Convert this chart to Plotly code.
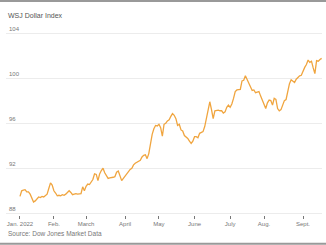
import pandas as pd
import plotly.graph_objects as go

# WSJ Dollar Index, daily closes (trading days from Jan. 3, 2022)
values = [
    89.5, 90.0, 90.05, 90.1, 89.9, 89.9, 89.7, 89.3, 89.0, 89.1,
    89.3, 89.45, 89.4, 89.5, 89.45, 89.55, 89.7, 90.2, 90.7, 90.5,
    90.0, 89.8, 89.55, 89.6, 89.55, 89.65, 89.6, 89.7, 89.85, 90.0,
    89.85, 89.65, 89.7, 89.75, 89.7, 89.7, 89.75, 90.35, 90.0, 90.4,
    90.6, 90.55, 90.8, 91.0, 91.5, 91.45, 90.9, 91.5, 91.8, 92.0,
    91.6, 91.3, 91.1, 91.15, 91.15, 91.2, 91.25, 91.65, 91.75, 91.2,
    90.9, 91.1, 91.3, 91.55, 91.7, 91.9, 92.0, 92.3, 92.45, 92.55,
    92.65, 92.7, 93.0, 93.15, 93.2, 92.85, 93.3, 94.2, 95.0, 95.5,
    95.8, 95.75, 95.9, 95.6, 94.85, 95.9, 96.0, 96.2, 96.3, 96.6,
    96.85, 96.7, 96.4, 95.8, 95.9, 95.4, 95.3, 94.9, 94.8, 94.65,
    94.4, 94.2, 94.4, 94.8, 94.8, 94.7, 95.1, 95.15, 95.25, 95.7,
    96.4, 97.3, 97.9, 97.2, 96.4, 97.1, 97.15, 97.15, 97.1, 97.1,
    96.9, 97.0, 97.4, 97.6, 97.4, 97.7, 98.2, 98.8, 98.95, 98.95,
    99.0, 99.75, 99.8, 100.2, 99.9, 99.5, 99.2, 98.9, 98.95, 98.7,
    98.75, 98.8, 98.4, 98.0, 97.75, 97.3, 97.8, 98.05, 98.0, 97.6,
    98.2, 98.1, 97.3, 97.1, 97.2, 97.7, 98.0, 98.1, 98.8, 99.5,
    99.85, 99.7, 99.6, 99.9, 100.1, 100.2, 100.25, 100.7, 100.95, 101.2,
    101.6, 101.4, 101.5, 100.9, 100.4, 101.55, 101.5, 101.65, 101.75,
]

holidays = ["2022-01-17", "2022-02-21", "2022-04-15", "2022-05-30",
            "2022-06-20", "2022-07-04", "2022-09-05"]
start_date = "2022-01-03"

month_labels = ["Jan. 2022", "Feb.", "March", "April", "May", "June",
                "July", "Aug.", "Sept."]
y_ticks = [88, 92, 96, 100, 104]

title_text = "WSJ Dollar Index"
source_text = "Source: Dow Jones Market Data"

cbd = pd.offsets.CustomBusinessDay(holidays=holidays)
dates = pd.date_range(start_date, periods=len(values), freq=cbd)
x = list(dates.strftime("%Y-%m-%d"))

# first trading day of each month for ticks
first_days = []
seen = set()
for d in dates:
    key = (d.year, d.month)
    if key not in seen:
        seen.add(key)
        first_days.append(d.strftime("%Y-%m-%d"))

FONT = "Liberation Sans, Arial, sans-serif"
ORANGE = "#F0A53F"

fig = go.Figure()
fig.add_trace(go.Scatter(
    x=x, y=values, mode="lines",
    line=dict(color=ORANGE, width=1.3),
    hoverinfo="skip",
))

W, H = 326, 245
ml, mr, mt = 6, 4, 20
px_per_unit = 11.25
base_px = 213          # pixel row of the 88 gridline
y_lo = 87.85
bottom_px = base_px + (88 - y_lo) * px_per_unit
mb = H - bottom_px
ph = bottom_px - mt
y_hi = y_lo + ph / px_per_unit

def py(pix):
    return (bottom_px - pix) / ph

fig.update_layout(
    width=W, height=H,
    margin=dict(l=ml, r=mr, t=mt, b=mb, pad=0),
    paper_bgcolor="white", plot_bgcolor="white",
    showlegend=False,
    font=dict(family=FONT, color="#777", size=6),
    xaxis=dict(
        type="category",
        range=[-8.25, 178.2],
        tickmode="array", tickvals=first_days, ticktext=month_labels,
        ticks="outside", ticklen=3, tickwidth=1, tickcolor="#777",
        showgrid=False, zeroline=False, showline=False,
        tickfont=dict(size=6, color="#777", family=FONT),
    ),
    yaxis=dict(
        range=[y_lo, y_hi],
        tickmode="array", tickvals=y_ticks,
        ticktext=[str(v) for v in y_ticks],
        ticklabelposition="inside top",
        showgrid=True, gridcolor="#ececec", gridwidth=1,
        zeroline=False, showline=False, ticks="",
        tickfont=dict(size=6, color="#777", family=FONT),
    ),
    annotations=[
        dict(text=title_text, xref="paper", yref="paper", x=0, y=py(16),
             xanchor="left", yanchor="middle", showarrow=False,
             font=dict(size=7, color="#555", family=FONT)),
        dict(text=source_text, xref="paper", yref="paper", x=0, y=py(233),
             xanchor="left", yanchor="middle", showarrow=False,
             font=dict(size=6.5, color="#777", family=FONT)),
    ],
    shapes=[
        dict(type="line", xref="paper", yref="paper",
             x0=-ml / (W - ml - mr), x1=(W - ml) / (W - ml - mr),
             y0=py(1), y1=py(1), line=dict(color="#999", width=2)),
        dict(type="line", xref="paper", yref="paper",
             x0=-ml / (W - ml - mr), x1=(W - ml) / (W - ml - mr),
             y0=py(243.5), y1=py(243.5), line=dict(color="#999", width=2)),
    ],
)

fig.write_html("out.html")
